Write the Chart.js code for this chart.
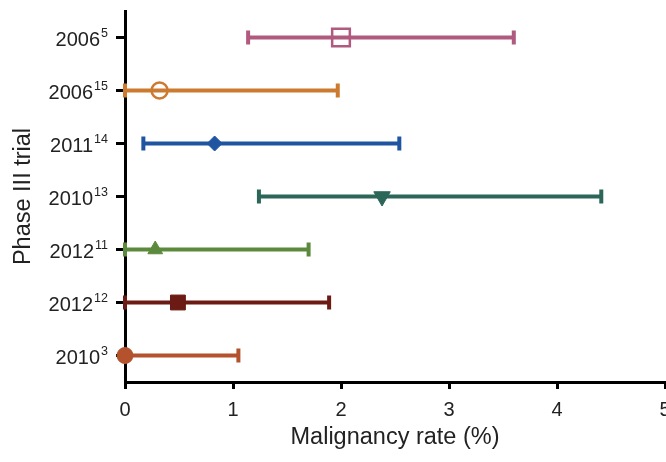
<!DOCTYPE html>
<html>
<head>
<meta charset="utf-8">
<script src="https://cdn.jsdelivr.net/npm/chart.js@4/dist/chart.umd.min.js"></script>
<style>
  html, body { margin: 0; padding: 0; background: #fff; overflow: hidden; }
  #wrap { width: 666px; height: 462px; }
</style>
</head>
<body>
<div id="wrap"><canvas id="forestChart" width="666" height="462"></canvas></div>
<script>
// trials, top to bottom (year + reference number shown as superscript)
const trialYears = ["2006", "2006", "2011", "2010", "2012", "2012", "2010"];
const trialRefs = ["5", "15", "14", "13", "11", "12", "3"];
const rateValues = [2.0, 0.32, 0.83, 2.38, 0.28, 0.49, 0.0];
const lowerValues = [1.14, 0.0, 0.17, 1.24, 0.0, 0.0, 0.0];
const upperValues = [3.6, 1.97, 2.54, 4.41, 1.7, 1.89, 1.05];
const xTickValues = [0, 1, 2, 3, 4, 5];

const trialColors = ["#b05a80", "#cd7a31", "#1f55a0", "#2b6659", "#5c8a3c", "#6b1a14", "#b4522d"];
const markerStyles = ["rect", "circle", "rectRot", "triangle", "triangle", "rect", "circle"];
const markerFilled = [false, false, true, true, true, true, true];
const markerRadius = [12.5, 8, 7.5, 9.5, 8.5, 10.5, 8];
const markerRotation = [0, 0, 0, 180, 0, 0, 0];

const fontFamily = "'Liberation Sans', Arial, sans-serif";
const categoryLabels = trialYears.map((y, i) => y + "^" + trialRefs[i]);

// horizontal CI bars with end caps, drawn through the chart scales
const errorBarPlugin = {
    id: "errorBars",
    beforeDatasetsDraw(chart) {
        const ctx = chart.ctx;
        const xScale = chart.scales.x;
        const yScale = chart.scales.y;
        ctx.save();
        trialYears.forEach(function (year, i) {
            const x1 = xScale.getPixelForValue(lowerValues[i]);
            const x2 = xScale.getPixelForValue(upperValues[i]);
            const y = yScale.getPixelForValue(i);
            ctx.strokeStyle = trialColors[i];
            ctx.lineWidth = 4;
            ctx.lineCap = "butt";
            ctx.beginPath();
            ctx.moveTo(x1, y);
            ctx.lineTo(x2, y);
            ctx.stroke();
            ctx.beginPath();
            ctx.moveTo(x1, y - 7);
            ctx.lineTo(x1, y + 7);
            ctx.moveTo(x2, y - 7);
            ctx.lineTo(x2, y + 7);
            ctx.stroke();
        });
        ctx.restore();
    },
};

// y labels: year with the reference as a smaller raised number
const trialLabelPlugin = {
    id: "trialLabels",
    afterDraw(chart) {
        const ctx = chart.ctx;
        const yScale = chart.scales.y;
        const right = yScale.right - 17;
        ctx.save();
        ctx.fillStyle = "#222";
        ctx.textAlign = "left";
        ctx.textBaseline = "alphabetic";
        trialYears.forEach(function (year, i) {
            const y = yScale.getPixelForValue(i);
            ctx.font = "20px " + fontFamily;
            const wYear = ctx.measureText(year).width;
            ctx.font = "12.5px " + fontFamily;
            const wRef = ctx.measureText(trialRefs[i]).width;
            const left = right - wYear - wRef - 1;
            ctx.font = "20px " + fontFamily;
            ctx.fillText(year, left, y + 8);
            ctx.font = "12.5px " + fontFamily;
            ctx.fillText(trialRefs[i], left + wYear + 1, y - 0.5);
        });
        ctx.restore();
    },
};

const ctx = document.getElementById("forestChart").getContext("2d");
const forestChart = new Chart(ctx, {
    type: "scatter",
    data: {
        labels: categoryLabels,
        datasets: [
            {
                data: rateValues.map((v, i) => ({ x: v, y: i })),
                clip: false,
                pointStyle: markerStyles,
                pointRadius: markerRadius,
                pointRotation: markerRotation,
                backgroundColor: trialColors.map((c, i) => (markerFilled[i] ? c : "rgba(0,0,0,0)")),
                borderColor: trialColors,
                borderWidth: markerFilled.map((f) => (f ? 1 : 2.5)),
            },
        ],
    },
    options: {
        responsive: false,
        animation: false,
        devicePixelRatio: 1,
        layout: { autoPadding: false, padding: { top: 11, right: 1, left: 0, bottom: 0 } },
        plugins: {
            legend: { display: false },
            tooltip: { enabled: false },
        },
        scales: {
            x: {
                type: "linear",
                min: 0,
                max: 5,
                afterBuildTicks: (scale) => {
                    scale.ticks = xTickValues.map((v) => ({ value: v }));
                },
                afterFit: (scale) => {
                    scale.height = 80;
                    scale.paddingLeft = 0;
                    scale.paddingRight = 0;
                },
                grid: {
                    drawOnChartArea: false,
                    drawTicks: true,
                    tickLength: 7,
                    tickWidth: 3,
                    tickColor: "#000",
                },
                border: { display: true, width: 3, color: "#000" },
                ticks: {
                    color: "#222",
                    padding: 9,
                    maxRotation: 0,
                    font: { family: fontFamily, size: 20 },
                },
                title: {
                    display: true,
                    text: "Malignancy rate (%)",
                    color: "#222",
                    padding: { top: 0, bottom: 10 },
                    font: { family: fontFamily, size: 23.5 },
                },
            },
            y: {
                type: "category",
                labels: categoryLabels,
                offset: true,
                afterFit: (scale) => {
                    scale.width = 125;
                    scale.paddingTop = 0;
                    scale.paddingBottom = 0;
                },
                grid: {
                    drawOnChartArea: false,
                    drawTicks: true,
                    tickLength: 9,
                    tickWidth: 3,
                    tickColor: "#000",
                },
                border: { display: true, width: 3, color: "#000" },
                ticks: { display: false },
                title: {
                    display: true,
                    text: "Phase III trial",
                    color: "#222",
                    padding: { top: 9, bottom: 0 },
                    font: { family: fontFamily, size: 23.5 },
                },
            },
        },
    },
    plugins: [errorBarPlugin, trialLabelPlugin],
});
</script>
</body>
</html>
